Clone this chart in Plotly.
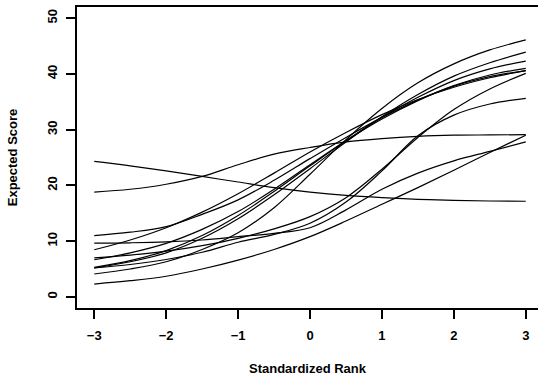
import plotly.graph_objects as go

# Standardized rank positions at which the curves were read
rank = [-3, -2.5, -2, -1.5, -1, -0.5, 0, 0.5, 1, 1.5, 2, 2.5, 3]

# Expected score curves (one list per curve)
curve_a = [24.3, 23.5, 22.6, 21.6, 20.6, 19.6, 18.8, 18.2, 17.8, 17.5, 17.3, 17.2, 17.15]
curve_b = [18.8, 19.3, 20.2, 21.6, 23.7, 25.6, 26.8, 27.8, 28.4, 28.8, 29.0, 29.05, 29.1]
curve_r1 = [4.1, 5.0, 6.3, 8.5, 11.5, 16.0, 22.0, 28.2, 33.8, 38.4, 41.8, 44.3, 46.1]
curve_r2 = [5.2, 6.3, 7.9, 10.5, 14.0, 18.3, 23.0, 27.8, 32.3, 36.3, 39.6, 42.0, 43.9]
curve_r3 = [5.3, 6.5, 8.3, 11.0, 14.6, 18.9, 23.5, 28.0, 32.2, 35.8, 38.8, 40.9, 42.3]
curve_r4 = [6.65, 7.9, 9.6, 12.1, 15.3, 19.3, 23.7, 28.0, 31.9, 35.2, 37.9, 39.8, 41.0]
curve_r5 = [8.45, 10.2, 12.4, 15.2, 18.5, 22.2, 26.0, 29.5, 32.7, 35.4, 37.6, 39.3, 40.6]
curve_r6 = [11.0, 11.6, 12.6, 14.8, 17.4, 20.9, 24.8, 28.6, 32.2, 35.3, 37.8, 39.5, 40.6]
curve_r7 = [7.0, 7.5, 8.2, 9.2, 10.5, 12.2, 14.4, 17.8, 22.9, 28.6, 33.6, 37.3, 40.1]
curve_r8 = [5.2, 5.8, 6.7, 8.0, 9.8, 11.2, 13.2, 17.0, 22.6, 28.9, 32.6, 34.6, 35.6]
curve_r9 = [2.3, 2.9, 3.7, 5.0, 6.6, 8.5, 10.8, 13.6, 16.6, 19.6, 22.7, 25.9, 29.0]
curve_r10 = [9.65, 9.7, 9.85, 10.2, 10.8, 11.4, 12.4, 15.6, 19.3, 22.2, 24.4, 26.1, 27.8]

curves = [curve_a, curve_b, curve_r1, curve_r2, curve_r3, curve_r4, curve_r5,
          curve_r6, curve_r7, curve_r8, curve_r9, curve_r10]

x_ticks = [-3, -2, -1, 0, 1, 2, 3]
x_tick_text = ["\u22123", "\u22122", "\u22121", "0", "1", "2", "3"]
y_ticks = [0, 10, 20, 30, 40, 50]
y_tick_text = ["0", "10", "20", "30", "40", "50"]

FONT = "Liberation Sans, Arial, Helvetica, sans-serif"

fig = go.Figure()
for c in curves:
    fig.add_trace(go.Scatter(
        x=rank, y=c, mode="lines",
        line=dict(color="black", width=1.2, shape="spline", smoothing=1.0),
        showlegend=False, hoverinfo="skip",
    ))

fig.update_layout(
    width=538, height=376,
    margin=dict(l=77, r=0, t=7, b=68),
    paper_bgcolor="white", plot_bgcolor="white",
    font=dict(family=FONT, size=13, color="black", weight="bold"),
    xaxis=dict(
        range=[-3.24, 3.17], showgrid=False, zeroline=False,
        showline=True, linecolor="black", linewidth=2, mirror=True,
        ticks="outside", ticklen=9, tickwidth=2, tickcolor="black",
        tickvals=x_ticks, ticktext=x_tick_text, ticklabelstandoff=5,
        tickfont=dict(family=FONT, size=13, weight="bold"),
        title=dict(text="Standardized Rank", standoff=24,
                   font=dict(family=FONT, size=13, weight="bold")),
    ),
    yaxis=dict(
        range=[-2, 52], showgrid=False, zeroline=False,
        showline=True, linecolor="black", linewidth=2, mirror=False,
        ticks="outside", ticklen=9, tickwidth=2, tickcolor="black",
        tickvals=y_ticks, ticktext=y_tick_text, tickangle=-90,
        ticklabelstandoff=4,
        tickfont=dict(family=FONT, size=13, weight="bold"),
        title=dict(text="Expected Score", standoff=24,
                   font=dict(family=FONT, size=13, weight="bold")),
    ),
)

fig.write_html("out.html")
